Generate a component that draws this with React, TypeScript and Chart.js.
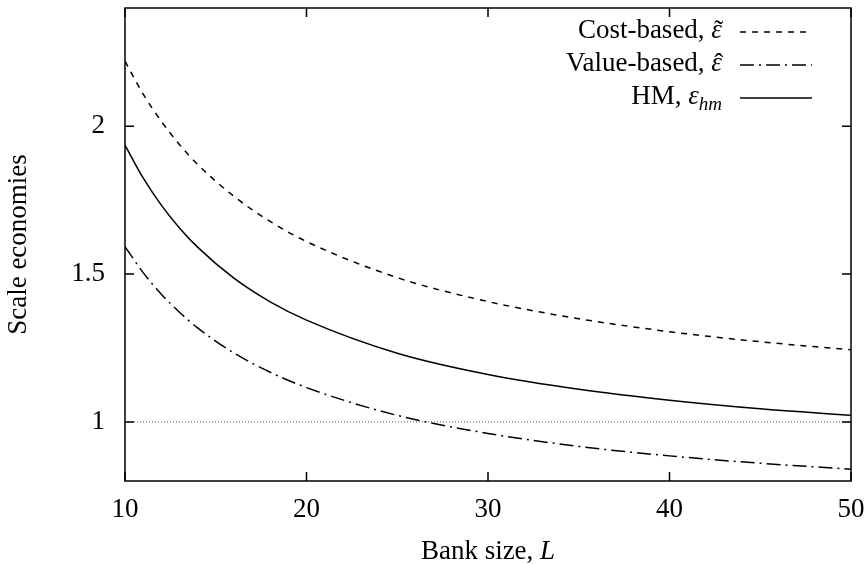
import React, { useEffect, useRef } from 'react';
import { Chart, registerables } from 'chart.js';

Chart.register(...registerables);

// ---- data ----
const bankSize = [10, 11, 12, 13, 14, 16, 18, 20, 25, 30, 35, 40, 45, 50];
const costBased = [2.22, 2.109, 2.017, 1.938, 1.871, 1.763, 1.678, 1.61, 1.488, 1.407, 1.349, 1.305, 1.271, 1.244];
const valueBased = [1.593, 1.505, 1.432, 1.371, 1.318, 1.233, 1.168, 1.116, 1.022, 0.961, 0.917, 0.885, 0.86, 0.84];
const hmValues = [1.936, 1.825, 1.733, 1.656, 1.591, 1.486, 1.406, 1.344, 1.232, 1.16, 1.11, 1.073, 1.044, 1.022];
const referenceX = [10, 50];
const referenceY = [1, 1];
const xTickValues = [10, 20, 30, 40, 50];
const yTickValues = [1, 1.5, 2];
const legendNames = ['Cost-based, ', 'Value-based, ', 'HM, '];
const legendSymbol = '\u03B5';
const legendAccents = ['\u02DC', '\u02C6', ''];
const legendSubscripts = ['', '', 'hm'];
const xTitleMain = 'Bank size, ';
const xTitleVar = 'L';
const yTitle = 'Scale economies';

const FONT = '"Liberation Serif", "DejaVu Serif", serif';
const FS = 27;

const toPoints = (xs: number[], ys: number[]) => xs.map((x, i) => ({ x, y: ys[i] }));

const framePlugin = {
  id: 'frame',
  afterDatasetsDraw(chart: any) {
    const { ctx, chartArea: a, scales } = chart;
    const xs = scales.x;
    const ys = scales.y;
    ctx.save();
    ctx.strokeStyle = '#000';
    ctx.lineWidth = 1.5;
    ctx.setLineDash([]);
    ctx.strokeRect(a.left, a.top, a.right - a.left, a.bottom - a.top);
    const tl = 9;
    ctx.beginPath();
    yTickValues.forEach((v) => {
      const p = ys.getPixelForValue(v);
      ctx.moveTo(a.left, p);
      ctx.lineTo(a.left + tl, p);
      ctx.moveTo(a.right, p);
      ctx.lineTo(a.right - tl, p);
    });
    xTickValues.forEach((v) => {
      const p = xs.getPixelForValue(v);
      ctx.moveTo(p, a.bottom);
      ctx.lineTo(p, a.bottom - tl);
      ctx.moveTo(p, a.top);
      ctx.lineTo(p, a.top + tl);
    });
    ctx.stroke();

    // legend (inside, top right)
    const textRight = 722;
    const sampleL = 740;
    const sampleR = 812;
    const rowY0 = 32;
    const rowStep = 33;
    legendNames.forEach((name, i) => {
      const y = rowY0 + i * rowStep;
      const base = y + 6;
      ctx.fillStyle = '#000';
      ctx.textBaseline = 'alphabetic';
      ctx.textAlign = 'left';
      let subW = 0;
      if (legendSubscripts[i]) {
        ctx.font = `italic ${Math.round(FS * 0.7)}px ${FONT}`;
        subW = ctx.measureText(legendSubscripts[i]).width;
      }
      ctx.font = `italic ${FS}px ${FONT}`;
      const symW = ctx.measureText(legendSymbol).width;
      ctx.font = `${FS}px ${FONT}`;
      const nameW = ctx.measureText(name).width;
      let x = textRight - subW - symW - nameW;
      ctx.fillText(name, x, base);
      x += nameW;
      ctx.font = `italic ${FS}px ${FONT}`;
      ctx.fillText(legendSymbol, x, base);
      if (legendAccents[i]) {
        ctx.font = `${FS}px ${FONT}`;
        ctx.textAlign = 'center';
        ctx.fillText(legendAccents[i], x + symW / 2 + 2, base + 1);
        ctx.textAlign = 'left';
      }
      x += symW;
      if (legendSubscripts[i]) {
        ctx.font = `italic ${Math.round(FS * 0.7)}px ${FONT}`;
        ctx.fillText(legendSubscripts[i], x, base + 6);
      }
      const ds = chart.data.datasets[i];
      ctx.strokeStyle = ds.borderColor;
      ctx.lineWidth = ds.borderWidth;
      ctx.setLineDash(ds.borderDash || []);
      ctx.beginPath();
      ctx.moveTo(sampleL, y);
      ctx.lineTo(sampleR, y);
      ctx.stroke();
    });
    ctx.setLineDash([]);

    // x title
    ctx.fillStyle = '#000';
    ctx.textBaseline = 'alphabetic';
    ctx.textAlign = 'left';
    ctx.font = `${FS}px ${FONT}`;
    const mW = ctx.measureText(xTitleMain).width;
    ctx.font = `italic ${FS}px ${FONT}`;
    const vW = ctx.measureText(xTitleVar).width;
    const cx = (a.left + a.right) / 2;
    const sx = cx - (mW + vW) / 2;
    const by = 559;
    ctx.font = `${FS}px ${FONT}`;
    ctx.fillText(xTitleMain, sx, by);
    ctx.font = `italic ${FS}px ${FONT}`;
    ctx.fillText(xTitleVar, sx + mW, by);
    ctx.restore();
  },
};

export default function App() {
  const ref = useRef<HTMLCanvasElement | null>(null);
  useEffect(() => {
    if (!ref.current) return;
    const chart = new Chart(ref.current, {
      type: 'line',
      data: {
        datasets: [
          {
            label: 'Cost-based',
            data: toPoints(bankSize, costBased),
            borderColor: '#000',
            borderWidth: 1.5,
            borderDash: [6, 6],
            pointRadius: 0,
            cubicInterpolationMode: 'monotone',
            fill: false,
          },
          {
            label: 'Value-based',
            data: toPoints(bankSize, valueBased),
            borderColor: '#000',
            borderWidth: 1.5,
            borderDash: [14, 5, 2, 5],
            pointRadius: 0,
            cubicInterpolationMode: 'monotone',
            fill: false,
          },
          {
            label: 'HM',
            data: toPoints(bankSize, hmValues),
            borderColor: '#000',
            borderWidth: 1.5,
            pointRadius: 0,
            cubicInterpolationMode: 'monotone',
            fill: false,
          },
          {
            label: 'one',
            data: toPoints(referenceX, referenceY),
            borderColor: '#555',
            borderWidth: 1,
            borderDash: [1, 2],
            pointRadius: 0,
            fill: false,
          },
        ],
      },
      options: {
        responsive: false,
        animation: false,
        devicePixelRatio: 1,
        layout: { padding: { top: 8, right: 14, left: 0, bottom: 0 } },
        plugins: { legend: { display: false }, tooltip: { enabled: false } },
        scales: {
          x: {
            type: 'linear',
            min: 10,
            max: 50,
            grid: { display: false, drawTicks: false },
            border: { display: false },
            afterBuildTicks: (s: any) => {
              s.ticks = xTickValues.map((v) => ({ value: v }));
            },
            afterFit: (s: any) => {
              s.height = 83;
              s.paddingLeft = 0;
              s.paddingRight = 0;
            },
            ticks: {
              padding: 13,
              color: '#000',
              maxRotation: 0,
              font: { family: FONT, size: FS },
              callback: (v: any) => String(v),
            },
          },
          y: {
            type: 'linear',
            min: 0.8,
            max: 2.4,
            grid: { display: false, drawTicks: false },
            border: { display: false },
            afterBuildTicks: (s: any) => {
              s.ticks = yTickValues.map((v) => ({ value: v }));
            },
            afterFit: (s: any) => {
              s.width = 125;
              s.paddingTop = 0;
              s.paddingBottom = 0;
            },
            ticks: {
              padding: 20,
              color: '#000',
              font: { family: FONT, size: FS },
              callback: (v: any) => String(v),
            },
            title: {
              display: true,
              text: yTitle,
              color: '#000',
              padding: { top: 3, bottom: 0 },
              font: { family: FONT, size: FS },
            },
          },
        },
      },
      plugins: [framePlugin],
    } as any);
    return () => chart.destroy();
  }, []);
  return (
    <div style={{ position: 'fixed', left: 0, top: 0, width: 865, height: 564, background: '#fff' }}>
      <canvas ref={ref} width={865} height={564} style={{ display: 'block' }} />
    </div>
  );
}
